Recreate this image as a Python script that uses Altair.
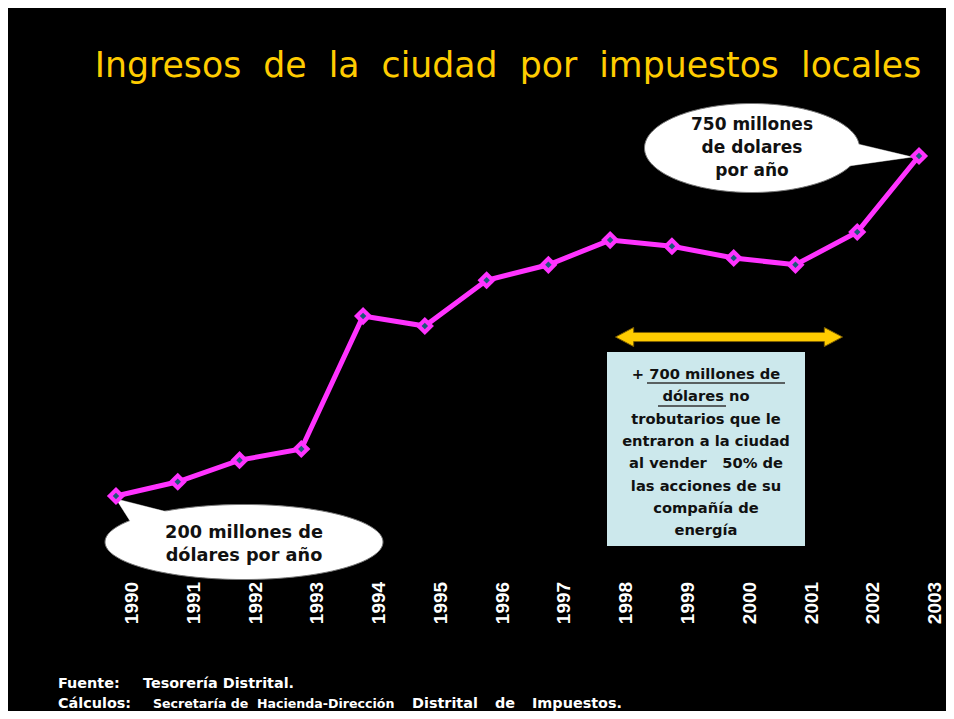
import altair as alt
import pandas as pd

# ---- data ----
years = [1990, 1991, 1992, 1993, 1994, 1995, 1996, 1997, 1998, 1999, 2000, 2001, 2002, 2003]
values = [200, 223, 258, 276, 491, 475, 549, 574, 614, 604, 585, 574, 627, 750]
year_labels = [str(y) for y in years]

title_text = "Ingresos \u00a0de \u00a0la \u00a0ciudad \u00a0por \u00a0impuestos \u00a0locales"
left_bubble = "200 millones de\ndólares por año"
right_bubble = "750 millones\nde dolares\npor año"
box_lines = ["+ 700 millones de", "dólares  no", "trobutarios que le", "entraron a la ciudad",
             "al vender \u00a0 50% de", "las acciones de su", "compañía de", "energía"]
footer_1 = ["Fuente:", "Tesorería Distrital."]
footer_2 = ["Cálculos:", "Secretaría de", "Hacienda-Dirección", "Distrital", "de", "Impuestos."]

df = pd.DataFrame({"year": years, "value": values, "label": year_labels})
df["label_x"] = df["year"] + 0.26

W, H = 938, 703
xs = alt.Scale(domain=[1988.252, 2003.437], nice=False, zero=False)
ys = alt.Scale(domain=[-147.8, 989.4], nice=False, zero=False)
X = alt.X("year:Q", scale=xs, axis=None)
Y = alt.Y("value:Q", scale=ys, axis=None)

one = alt.Data(values=[{"a": 1}])

def txt(text, x, y, **kw):
    return alt.Chart(one).mark_text(text=text, **kw).encode(x=alt.value(x), y=alt.value(y))

def shape(path, x, y, size, **kw):
    return alt.Chart(one).mark_point(shape=path, size=size, filled=True, opacity=1, **kw).encode(
        x=alt.value(x), y=alt.value(y))

BOLD = dict(font="DejaVu Sans", fontWeight="bold")

# title
title = txt(title_text, 500, 69, font="DejaVu Sans", fontSize=34.7, color="#FFCC00",
            align="center", baseline="alphabetic")

# line + markers
line = alt.Chart(df).mark_line(color="#FF33FF", strokeWidth=5).encode(x=X, y=Y)
outer = alt.Chart(df).mark_point(shape="diamond", size=330, filled=True, opacity=1,
                                 color="#FF33FF").encode(x=X, y=Y)
inner = alt.Chart(df).mark_point(shape="diamond", size=42, filled=True, opacity=1,
                                 color="#1B5A7A").encode(x=X, y=Y)

# year labels
ylab = alt.Chart(df).mark_text(angle=270, fontSize=19, fontWeight="bold", font="Liberation Sans",
                               color="white", align="center", baseline="middle").encode(
    x=alt.X("label_x:Q", scale=xs, axis=None), y=alt.value(595), text="label:N")

# bubbles
ellipse_l = "M -1 0 A 1 0.27 0 1 1 1 0 A 1 0.27 0 1 1 -1 0 Z"
tail_l = "M -0.80 -0.12 L -0.92 -0.31 L -0.45 -0.19 Z"
ellipse_r = "M -1 0 A 1 0.414 0 1 1 1 0 A 1 0.414 0 1 1 -1 0 Z"
tail_r = "M 0.93 -0.05 L 1.49 0.084 L 0.88 0.17 Z"
SL, SR = 278 ** 2, 215 ** 2
bubbles = [
    shape(tail_l, 236, 534, SL, color="white", stroke="#777777", strokeWidth=1),
    shape(ellipse_l, 236, 534, SL, color="white", stroke="#777777", strokeWidth=1),
    shape(tail_l, 236, 534, SL, color="white", strokeWidth=0),
    shape(tail_r, 744, 140, SR, color="white", stroke="#777777", strokeWidth=1),
    shape(ellipse_r, 744, 140, SR, color="white", stroke="#777777", strokeWidth=1),
    shape(tail_r, 744, 140, SR, color="white", strokeWidth=0),
]
bub_l_t = txt(left_bubble, 236, 525, fontSize=17.7, color="#111111", align="center",
              baseline="middle", lineBreak="\n", lineHeight=23, **BOLD)
bub_r_t = txt(right_bubble, 744, 117, fontSize=17, color="#111111", align="center",
              baseline="middle", lineBreak="\n", lineHeight=23, **BOLD)

# arrow
arrow_path = ("M -1 0 L -0.84 -0.084 L -0.84 -0.04 L 0.84 -0.04 L 0.84 -0.084 L 1 0 "
              "L 0.84 0.084 L 0.84 0.04 L -0.84 0.04 L -0.84 0.084 Z")
arrow = shape(arrow_path, 721, 329, 227 ** 2, color="#FFCC00", stroke="#7F6000", strokeWidth=1)

# text box
box = alt.Chart(one).mark_rect(color="#CCE8EC").encode(
    x=alt.value(599), x2=alt.value(797), y=alt.value(344), y2=alt.value(538))
box_t = txt("\n".join(box_lines), 698, 367, fontSize=14.7, color="#111111", align="center",
            baseline="middle", lineBreak="\n", lineHeight=22.3, **BOLD)
ul1 = alt.Chart(one).mark_rule(color="#333333", strokeWidth=1.5).encode(
    x=alt.value(639), x2=alt.value(777), y=alt.value(375))
ul2 = alt.Chart(one).mark_rule(color="#333333", strokeWidth=1.5).encode(
    x=alt.value(650), x2=alt.value(718), y=alt.value(398))

# footer
fstyle = dict(fontSize=14.4, color="white", align="left", baseline="middle", **BOLD)
foot = [txt(footer_1[0], 50, 676, **fstyle), txt(footer_1[1], 135, 676, **fstyle)]
for t, x, fs in zip(footer_2, [50, 145, 249, 404, 487, 524], [14.4, 12.6, 12.6, 14.4, 14.4, 14.4]):
    foot.append(txt(t, x, 696, **{**fstyle, "fontSize": fs}))

chart = alt.layer(title, *bubbles, line, outer, inner, ylab, bub_l_t, bub_r_t,
                  arrow, box, box_t, ul1, ul2, *foot).properties(
    width=W, height=H, background="black", padding=0,
    autosize=alt.AutoSizeParams(type="fit", contains="padding")
).configure_view(stroke=None)

chart.save("out.html", embed_options={"renderer": "svg", "actions": False})
